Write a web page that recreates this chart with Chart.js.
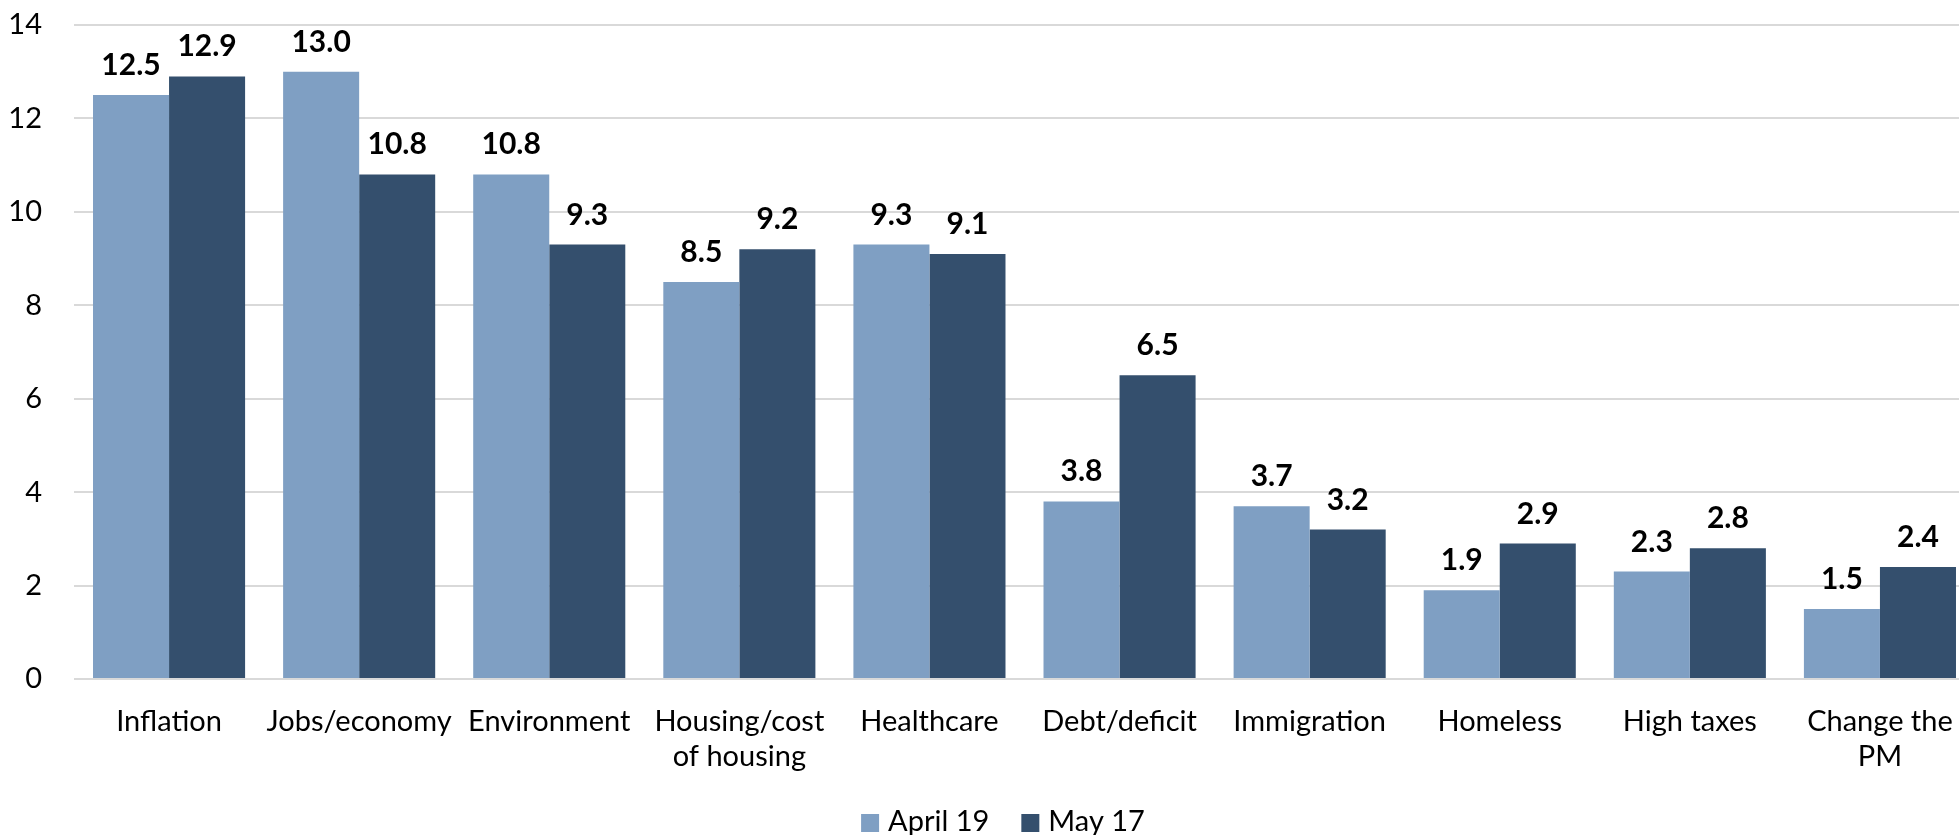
<!DOCTYPE html>
<html>
<head>
<meta charset="utf-8">
<script src="https://cdn.jsdelivr.net/npm/chart.js@4/dist/chart.umd.min.js"></script>
<style>
  html, body { margin: 0; padding: 0; background: #fff; overflow: hidden; }
  .wrap { position: relative; width: 1975px; height: 835px; }
</style>
</head>
<body>
<div class="wrap"><canvas class="bar-chart"></canvas></div>
<script>
const categories = [
  'Inflation',
  'Jobs/economy',
  'Environment',
  ['Housing/cost', 'of housing'],
  'Healthcare',
  'Debt/deficit',
  'Immigration',
  'Homeless',
  'High taxes',
  ['Change the', 'PM'],
];

const april19 = [12.5, 13.0, 10.8, 8.5, 9.3, 3.8, 3.7, 1.9, 2.3, 1.5];
const may17 = [12.9, 10.8, 9.3, 9.2, 9.1, 6.5, 3.2, 2.9, 2.8, 2.4];

const yTicks = [0, 2, 4, 6, 8, 10, 12, 14];

const fontFamily = 'Lato, "Open Sans", sans-serif';

// value labels above each bar
const barLabels = {
  id: 'barLabels',
  afterDatasetsDraw(chart) {
    const ctx = chart.ctx;
    ctx.save();
    ctx.font = 'bold 30px ' + fontFamily;
    ctx.fillStyle = '#000';
    ctx.textAlign = 'center';
    ctx.textBaseline = 'alphabetic';
    chart.data.datasets.forEach((ds, i) => {
      chart.getDatasetMeta(i).data.forEach((bar, j) => {
        ctx.fillText(ds.data[j].toFixed(1), bar.x, bar.y - 20);
      });
    });
    ctx.restore();
  },
};

// legend at the bottom, drawn by hand so it sits where the original one does
const bottomLegend = {
  id: 'bottomLegend',
  afterDraw(chart) {
    const ctx = chart.ctx;
    const box = 18;
    const gap = 9;
    const itemGap = 32;
    ctx.save();
    ctx.font = '29px ' + fontFamily;
    const items = chart.data.datasets.map((ds) => ({
      text: ds.label,
      color: ds.backgroundColor,
      w: box + gap + ctx.measureText(ds.label).width,
    }));
    const total = items.reduce((acc, it) => acc + it.w, 0) + itemGap * (items.length - 1);
    let x = 1003 - total / 2;
    const baseline = 831;
    items.forEach((it) => {
      ctx.fillStyle = it.color;
      ctx.fillRect(x, baseline - 17, box, box);
      ctx.fillStyle = '#000';
      ctx.textAlign = 'left';
      ctx.textBaseline = 'alphabetic';
      ctx.fillText(it.text, x + box + gap, baseline);
      x += it.w + itemGap;
    });
    ctx.restore();
  },
};

const barChart = document.querySelector('.bar-chart');

new Chart(barChart, {
  type: 'bar',
  data: {
    labels: categories,
    datasets: [
      {
        label: 'April 19',
        data: april19,
        backgroundColor: 'rgb(127, 159, 195)',
        categoryPercentage: 0.8,
        barPercentage: 1.0,
      },
      {
        label: 'May 17',
        data: may17,
        backgroundColor: 'rgb(52, 79, 109)',
        categoryPercentage: 0.8,
        barPercentage: 1.0,
      },
    ],
  },
  options: {
    responsive: true,
    maintainAspectRatio: false,
    animation: false,
    layout: {
      padding: { left: 0, top: 25, right: 0, bottom: 36 },
    },
    plugins: {
      tooltip: { enabled: false },
      legend: { display: false },
    },
    scales: {
      x: {
        afterFit: (scale) => {
          scale.height = 120;
        },
        grid: { display: false },
        border: { display: false },
        ticks: {
          color: '#000',
          padding: 17,
          maxRotation: 0,
          autoSkip: false,
          font: { family: fontFamily, size: 29 },
        },
      },
      y: {
        min: 0,
        max: 14,
        afterFit: (scale) => {
          scale.width = 74;
          scale.paddingTop = 0;
          scale.paddingBottom = 0;
        },
        afterBuildTicks: (scale) => {
          scale.ticks = yTicks.map((v) => ({ value: v }));
        },
        grid: { color: '#d9d9d9', lineWidth: 2, drawTicks: false },
        border: { display: false },
        ticks: {
          color: '#000',
          padding: 32,
          font: { family: fontFamily, size: 29 },
        },
      },
    },
  },
  plugins: [barLabels, bottomLegend],
});
</script>
</body>
</html>
